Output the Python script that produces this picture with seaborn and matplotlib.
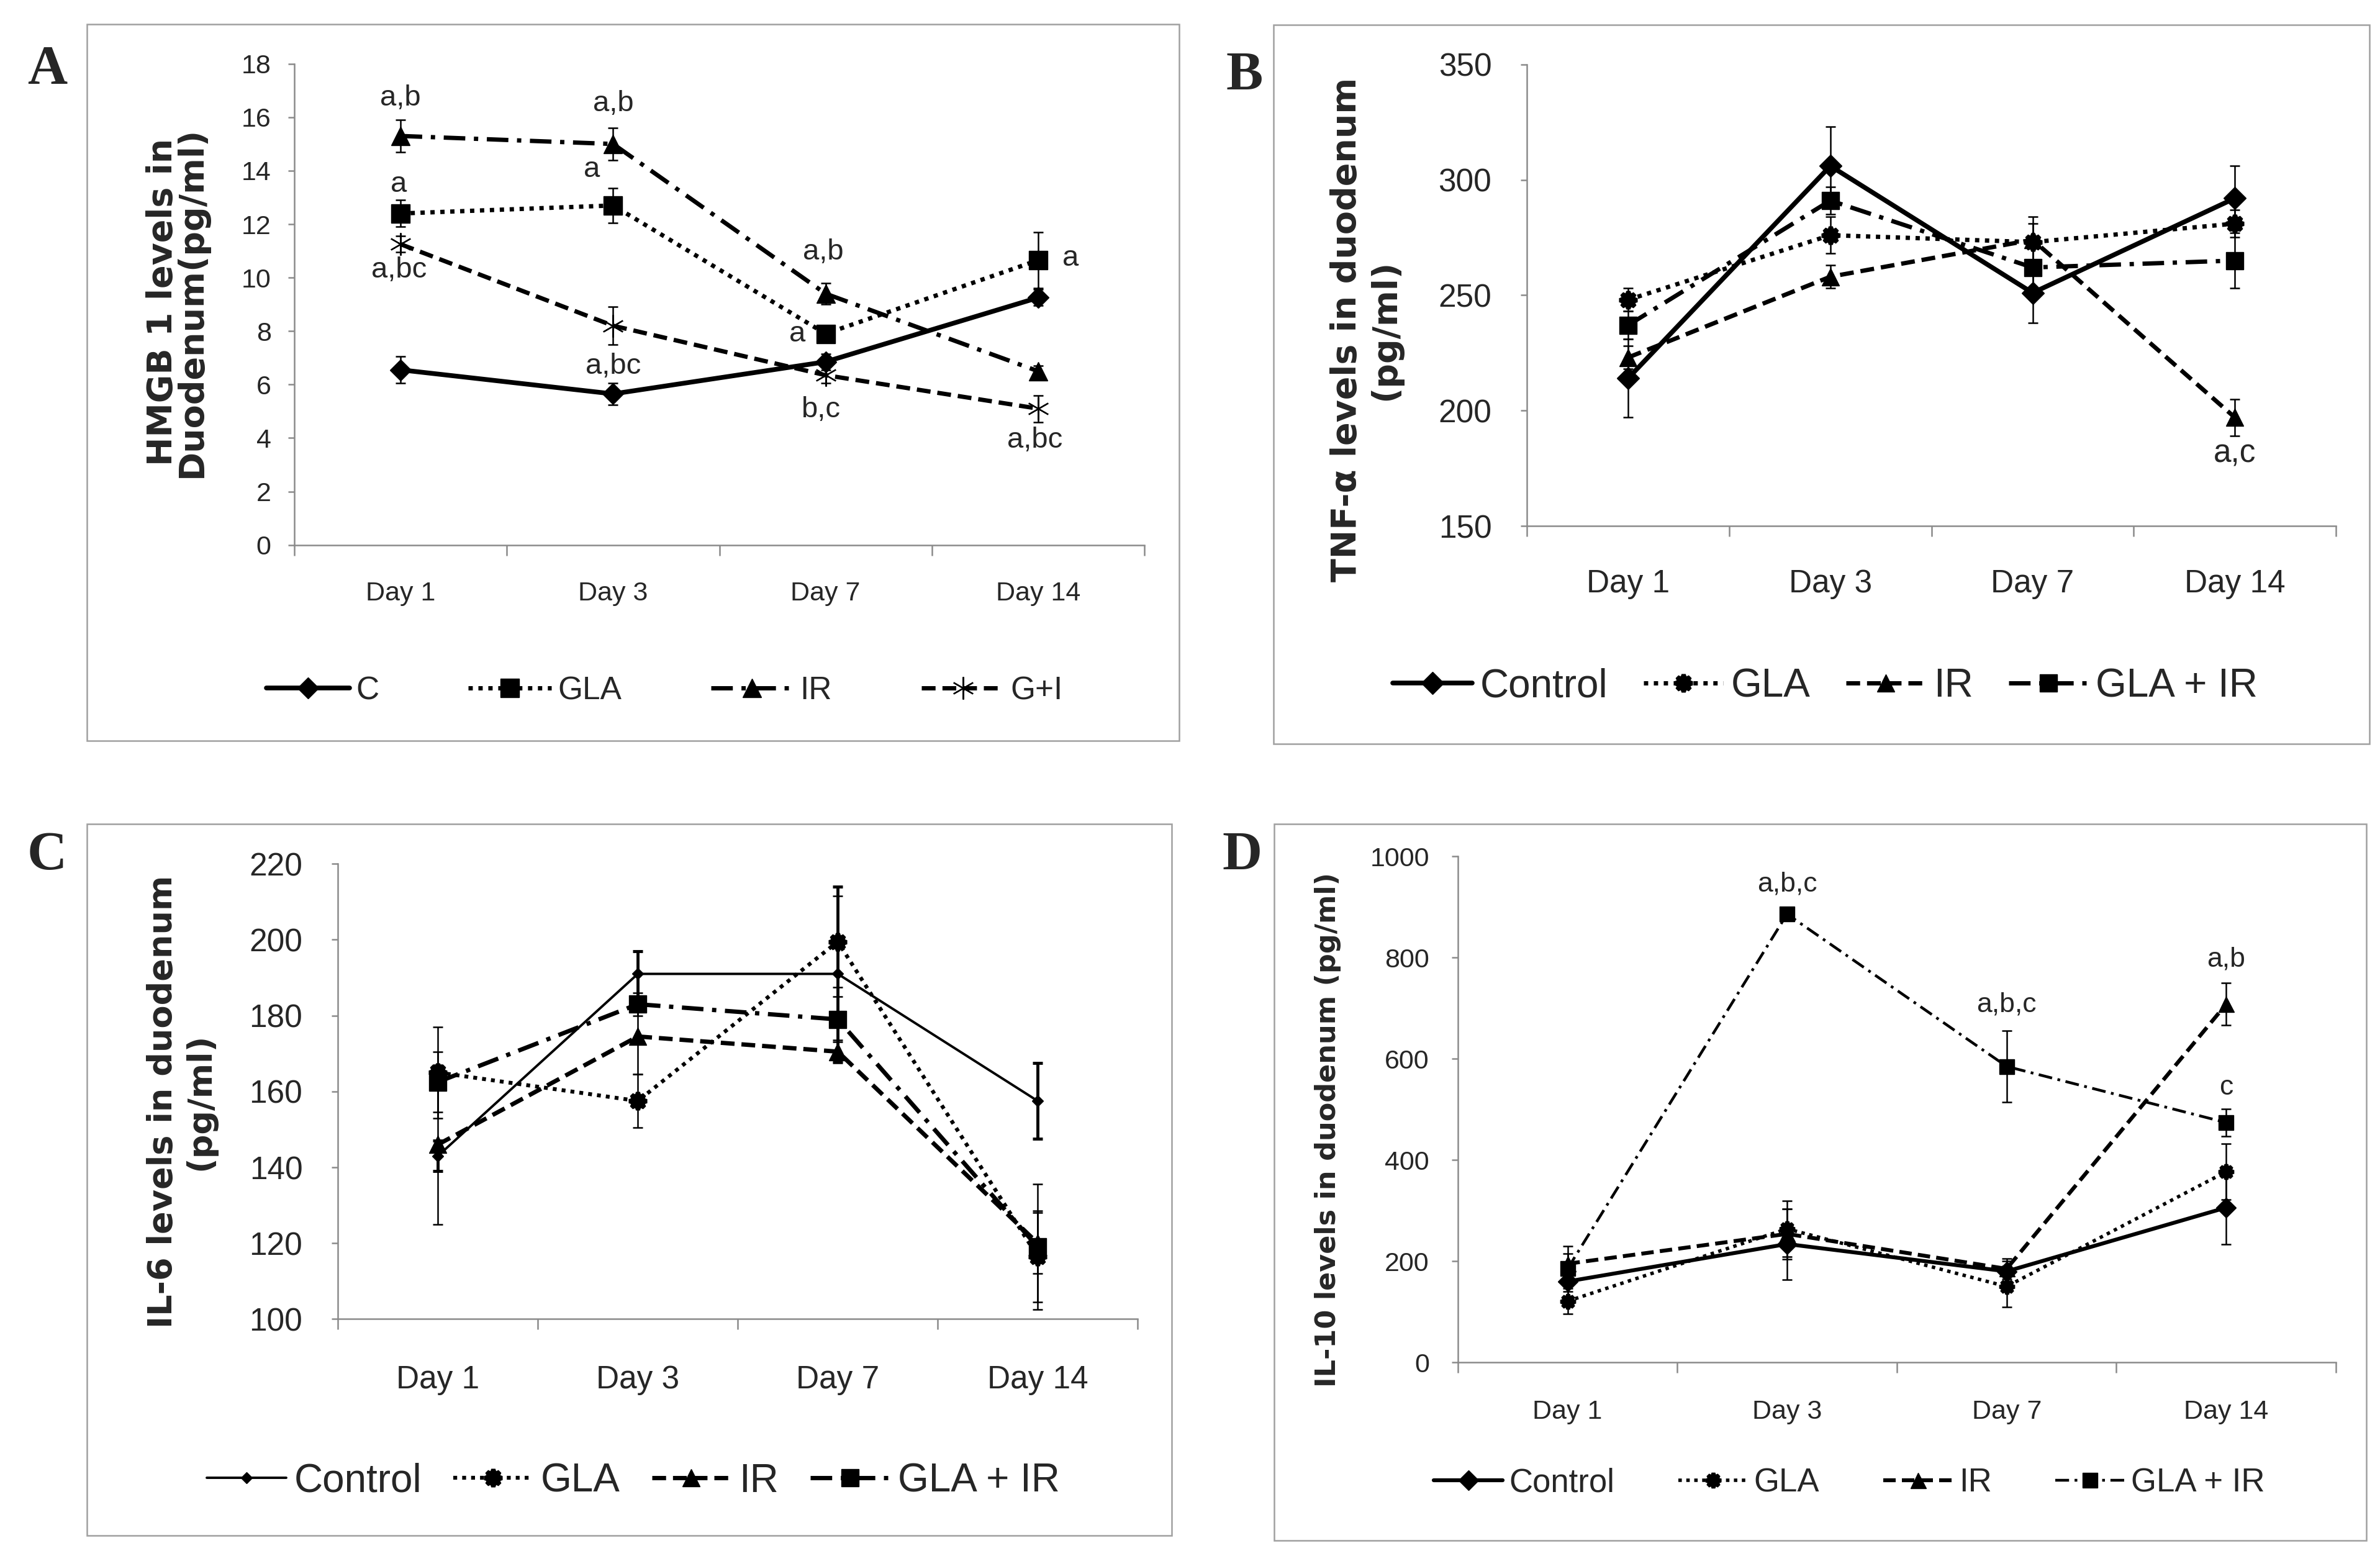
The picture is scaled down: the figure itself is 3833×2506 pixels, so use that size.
import matplotlib
matplotlib.use("Agg")

import matplotlib.pyplot as plt
import seaborn as sns
from matplotlib.patches import Rectangle

# ================= DATA =================
days = ["Day 1", "Day 3", "Day 7", "Day 14"]

# A - HMGB 1
hmgb_labels = ["C", "GLA", "IR", "G+I"]
hmgb_c = [6.55, 5.65, 6.85, 9.25]
hmgb_gla = [12.4, 12.7, 7.9, 10.65]
hmgb_ir = [15.3, 15.0, 9.4, 6.5]
hmgb_gi = [11.25, 8.2, 6.35, 5.1]
hmgb_c_err = [0.5, 0.4, 0.3, 0.3]
hmgb_gla_err = [0.5, 0.65, 0.3, 1.05]
hmgb_ir_err = [0.6, 0.6, 0.4, 0.2]
hmgb_gi_err = [0.3, 0.7, 0.3, 0.5]

# B - TNF-alpha
tnf_labels = ["Control", "GLA", "IR", "GLA + IR"]
tnf_control = [214, 306, 251, 292]
tnf_gla = [248, 276, 273, 281]
tnf_ir = [223, 258, 274, 197]
tnf_glair = [237, 291, 262, 265]
tnf_control_err = [17, 17, 13, 14]
tnf_gla_err = [5, 8, 8, 6]
tnf_ir_err = [5, 5, 10, 8]
tnf_glair_err = [6, 6, 10, 12]

# C - IL-6
il6_labels = ["Control", "GLA", "IR", "GLA + IR"]
il6_control = [143, 191, 191, 157.5]
il6_gla = [165, 157.5, 199.5, 116.5]
il6_ir = [146, 174.5, 170.5, 120]
il6_glair = [162.5, 183, 179, 119]
il6_control_err = [4, 6, 23, 10]
il6_gla_err = [12, 7, 12, 12]
il6_ir_err = [21, 10, 3, 8]
il6_glair_err = [8, 3, 6, 16.5]

# D - IL-10
il10_labels = ["Control", "GLA", "IR", "GLA + IR"]
il10_control = [160, 234, 180, 306]
il10_gla = [121, 264, 150, 377]
il10_ir = [195, 254, 185, 708]
il10_glair = [185, 886, 585, 474]
il10_control_err = [30, 70, 20, 72]
il10_gla_err = [25, 55, 40, 55]
il10_ir_err = [20, 50, 20, 42]
il10_glair_err = [45, 12, 71, 27]

# significance letters: (series, day, text)
hmgb_marks = [(2, 0, "a,b"), (2, 1, "a,b"), (1, 1, "a"), (1, 0, "a"), (3, 0, "a,bc"),
              (3, 1, "a,bc"), (2, 2, "a,b"), (1, 2, "a"), (3, 2, "b,c"), (1, 3, "a"),
              (3, 3, "a,bc")]
tnf_marks = [(2, 3, "a,c")]
il10_marks = [(3, 1, "a,b,c"), (3, 2, "a,b,c"), (2, 3, "a,b"), (3, 3, "c")]

# ================= STYLE =================
sns.set_theme(style="ticks")
plt.rcParams["font.family"] = ["Liberation Sans", "DejaVu Sans"]

GREY = "#8a8a8a"
SOLID = "-"
DOT = (0, (1, 1.3))
DASH = (0, (3.2, 1.6))
DASHDOT = (0, (5, 2, 1, 2))
STAR = (8, 1, 0)
SNOW = (6, 2, 0)

fig = plt.figure(figsize=(38.33, 25.06), dpi=100)


def draw_panel(rect, box, letter, letter_xy, series, errs, labels, styles, ylim, yticks,
               tick_fs, xpad, ypad, ylabel, ylabel_xy, ylabel_fs, leg_xy, leg_fs,
               leg_hl, leg_cs, marks=(), offsets=(), mark_fs=30, linespacing=1.2):
    fig.add_artist(Rectangle((box[0], box[1]), box[2] - box[0], box[3] - box[1],
                             transform=fig.transFigure, fill=False, ec="#a0a0a0", lw=1.8))
    fig.text(letter_xy[0], letter_xy[1], letter, ha="center", va="center",
             family="Liberation Serif", weight="bold", size=64)
    ax = fig.add_axes(rect)
    x = list(range(len(days)))
    handles = []
    for vals, st in zip(series, styles):
        sns.lineplot(x=x, y=vals, ax=ax, color="black", marker=st["marker"],
                     markersize=st["ms"], markeredgewidth=st.get("mew", 1),
                     markeredgecolor="black", markerfacecolor="black",
                     linestyle=st["ls"], linewidth=st["lw"], legend=False, errorbar=None)
        handles.append(ax.lines[-1])
    for vals, err, st in zip(series, errs, styles):
        ax.errorbar(x, vals, yerr=err, fmt="none", ecolor="black",
                    elinewidth=st.get("elw", 1.8), capsize=6, capthick=st.get("elw", 1.8),
                    zorder=3)
    for (si, di, txt), (dx, dy) in zip(marks, offsets):
        ax.annotate(txt, (di, series[si][di]), xytext=(dx, dy), textcoords="offset points",
                    ha="center", va="center", fontsize=mark_fs)

    ax.set_xlim(-0.5, 3.5)
    ax.set_ylim(*ylim)
    ax.set_yticks(yticks)
    ax.set_xticks(x)
    ax.set_xticklabels(days)
    ax.set_xticks([-0.5, 0.5, 1.5, 2.5, 3.5], minor=True)
    ax.tick_params(axis="x", which="major", length=0, pad=xpad, labelsize=tick_fs)
    ax.tick_params(axis="x", which="minor", length=12, width=1.8, color=GREY, direction="out")
    ax.tick_params(axis="y", length=7, width=1.8, color=GREY, pad=ypad, labelsize=tick_fs,
                   direction="out")
    ax.set_xlabel("")
    ax.set_ylabel("")
    for s in ["top", "right"]:
        ax.spines[s].set_visible(False)
    for s in ["left", "bottom"]:
        ax.spines[s].set_color(GREY)
        ax.spines[s].set_linewidth(1.8)
    ax.set_facecolor("none")

    fig.text(ylabel_xy[0], ylabel_xy[1], ylabel, rotation=90, ha="center", va="center",
             family="DejaVu Sans", weight="bold", size=ylabel_fs, multialignment="center",
             linespacing=linespacing)

    ax.legend(handles, labels, loc="center", bbox_to_anchor=leg_xy,
              bbox_transform=fig.transFigure, ncol=4, frameon=False, fontsize=leg_fs,
              handlelength=leg_hl, columnspacing=leg_cs, handletextpad=0.2, numpoints=1)
    return ax


# ================= A =================
draw_panel(
    rect=[0.1237, 0.6498, 0.3571, 0.3092], box=(0.0364, 0.5241, 0.4955, 0.9844),
    letter="A", letter_xy=(0.0198, 0.955),
    series=[hmgb_c, hmgb_gla, hmgb_ir, hmgb_gi],
    errs=[hmgb_c_err, hmgb_gla_err, hmgb_ir_err, hmgb_gi_err],
    labels=hmgb_labels,
    styles=[dict(ls=SOLID, lw=5.5, marker="D", ms=17),
            dict(ls=DOT, lw=5, marker="s", ms=22),
            dict(ls=DASHDOT, lw=5, marker="^", ms=22),
            dict(ls=DASH, lw=5, marker=SNOW, ms=26, mew=1.6)],
    ylim=(0, 18), yticks=range(0, 19, 2), tick_fs=31, xpad=42, ypad=20,
    ylabel="HMGB 1 levels in\nDuodenum(pg/ml)", ylabel_xy=(0.0745, 0.806), ylabel_fs=40,
    linespacing=0.82,
    leg_xy=(0.2793, 0.556), leg_fs=37, leg_hl=2.6, leg_cs=2.8,
    marks=hmgb_marks,
    offsets=[(0, 44), (0, 47), (-25, 42), (-2, 34), (-2, -30), (0, -47), (-3, 48),
             (-33, 0), (-6, -40), (38, 2), (-4, -37)],
    mark_fs=34,
)

# ================= B =================
draw_panel(
    rect=[0.6416, 0.6620, 0.3399, 0.2966], box=(0.535, 0.522, 0.9955, 0.984),
    letter="B", letter_xy=(0.523, 0.951),
    series=[tnf_control, tnf_gla, tnf_ir, tnf_glair],
    errs=[tnf_control_err, tnf_gla_err, tnf_ir_err, tnf_glair_err],
    labels=tnf_labels,
    styles=[dict(ls=SOLID, lw=5.5, marker="D", ms=18),
            dict(ls=DOT, lw=5, marker=STAR, ms=20, mew=5),
            dict(ls=DASH, lw=5, marker="^", ms=20),
            dict(ls=DASHDOT, lw=5, marker="s", ms=20)],
    ylim=(150, 350), yticks=range(150, 351, 50), tick_fs=37, xpad=50, ypad=34,
    ylabel="TNF-\u03b1 levels in duodenum\n(pg/ml)", ylabel_xy=(0.574, 0.788), ylabel_fs=40,
    leg_xy=(0.767, 0.559), leg_fs=46, leg_hl=2.0, leg_cs=0.9,
    marks=tnf_marks, offsets=[(0, -42)], mark_fs=37,
)

# ================= C =================
draw_panel(
    rect=[0.1420, 0.1523, 0.3360, 0.2925], box=(0.0364, 0.0131, 0.4923, 0.4706),
    letter="C", letter_xy=(0.0198, 0.450),
    series=[il6_control, il6_gla, il6_ir, il6_glair],
    errs=[il6_control_err, il6_gla_err, il6_ir_err, il6_glair_err],
    labels=il6_labels,
    styles=[dict(ls=SOLID, lw=2.8, marker="D", ms=9, elw=3.5),
            dict(ls=DOT, lw=4.5, marker=STAR, ms=20, mew=5),
            dict(ls=DASH, lw=5, marker="^", ms=20),
            dict(ls=DASHDOT, lw=5, marker="s", ms=20)],
    ylim=(100, 220), yticks=range(100, 221, 20), tick_fs=37, xpad=53, ypad=34,
    ylabel="IL-6 levels in duodenum\n(pg/ml)", ylabel_xy=(0.0762, 0.292), ylabel_fs=39,
    leg_xy=(0.266, 0.048), leg_fs=46, leg_hl=2.0, leg_cs=0.8,
)

# ================= D =================
draw_panel(
    rect=[0.6125, 0.1244, 0.3690, 0.3252], box=(0.5353, 0.0101, 0.9943, 0.4706),
    letter="D", letter_xy=(0.522, 0.450),
    series=[il10_control, il10_gla, il10_ir, il10_glair],
    errs=[il10_control_err, il10_gla_err, il10_ir_err, il10_glair_err],
    labels=il10_labels,
    styles=[dict(ls=SOLID, lw=4.5, marker="D", ms=16),
            dict(ls=DOT, lw=4, marker=STAR, ms=17, mew=4.5),
            dict(ls=DASH, lw=4.5, marker="^", ms=18),
            dict(ls=DASHDOT, lw=3.2, marker="s", ms=17)],
    ylim=(0, 1000), yticks=range(0, 1001, 200), tick_fs=31, xpad=43, ypad=26,
    ylabel="IL-10 levels in duodenum (pg/ml)", ylabel_xy=(0.558, 0.274), ylabel_fs=32,
    leg_xy=(0.777, 0.047), leg_fs=38, leg_hl=2.1, leg_cs=1.95,
    marks=il10_marks, offsets=[(0, 35), (0, 72), (0, 52), (0, 41)], mark_fs=32,
)

fig.savefig("out.png", dpi=100, facecolor="white")
